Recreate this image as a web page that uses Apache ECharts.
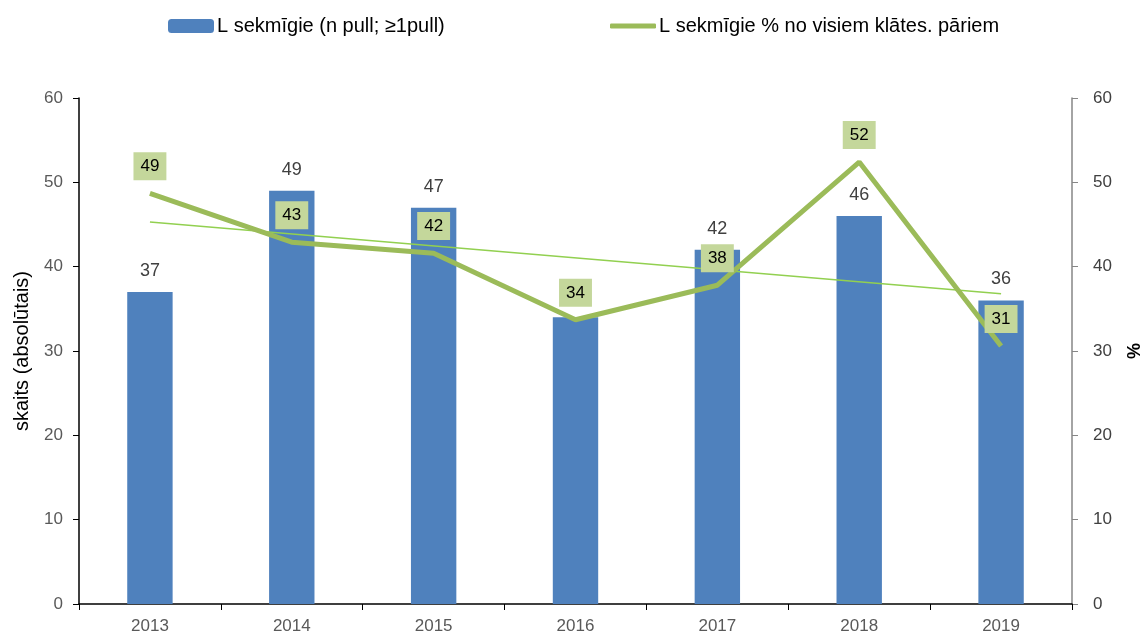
<!DOCTYPE html>
<html><head><meta charset="utf-8">
<script src="https://cdn.jsdelivr.net/npm/echarts@6/dist/echarts.min.js"></script>
<style>html,body{margin:0;padding:0;background:#fff}#c{width:1148px;height:641px}</style>
</head><body><div id="c"></div>
<script>
const categories = ['2013','2014','2015','2016','2017','2018','2019'];
const barValues = [37, 49, 47, 34, 42, 46, 36];
const pctValues = [48.7, 42.9, 41.6, 33.7, 37.8, 52.4, 30.6];
const trendValues = [45.3, null, null, null, null, null, 36.8];
const barName = 'L sekmīgie (n pull; ≥1pull)';
const lineName = 'L sekmīgie % no visiem klātes. pāriem';
const leftAxisName = 'skaits (absolūtais)';
const rightAxisName = '%';

const FONT = 'Liberation Sans';
const chart = echarts.init(document.getElementById('c'));
chart.setOption({
  animation: false,
  textStyle: {fontFamily: FONT},
  legend: [
    {data: [barName], left: 163, top: 11, itemWidth: 46, itemHeight: 14, itemGap: 4,
     textStyle: {fontSize: 20, color: '#000', fontFamily: FONT, padding: [0, 0, 0, -2]}},
    {data: [{name: lineName, icon: 'roundRect'}], left: 605, top: 11, itemWidth: 46, itemHeight: 5,
     textStyle: {fontSize: 20, color: '#000', fontFamily: FONT, padding: [0, 0, 0, -2]}}
  ],
  grid: {left: 79, right: 76, top: 98, bottom: 37, outerBoundsMode: 'none', containLabel: false},
  xAxis: {
    type: 'category', data: categories,
    axisLine: {lineStyle: {color: '#000', width: 1.5}},
    axisTick: {show: true, length: 6, lineStyle: {color: '#000'}},
    axisLabel: {fontSize: 17, color: '#595959', margin: 14}
  },
  yAxis: [
    {type: 'value', min: 0, max: 60, interval: 10, position: 'left',
     name: leftAxisName, nameLocation: 'middle', nameGap: 47, nameRotate: 90,
     nameTextStyle: {fontSize: 20, color: '#000'},
     axisLine: {show: true, lineStyle: {color: '#000', width: 1.5}},
     axisTick: {show: true, length: 6, lineStyle: {color: '#000'}},
     axisLabel: {fontSize: 17, color: '#595959', margin: 16},
     splitLine: {show: false}},
    {type: 'value', min: 0, max: 60, interval: 10, position: 'right',
     name: rightAxisName, nameLocation: 'middle', nameGap: 54, nameRotate: 90,
     nameTextStyle: {fontSize: 18, color: '#000', fontWeight: 'bold'},
     axisLine: {show: true, lineStyle: {color: '#868686', width: 1.5}},
     axisTick: {show: true, length: 6, lineStyle: {color: '#868686'}},
     axisLabel: {fontSize: 17, color: '#404040', margin: 21},
     splitLine: {show: false}}
  ],
  series: [
    {name: barName, type: 'bar', data: barValues, yAxisIndex: 0, barWidth: '32%',
     itemStyle: {color: '#4F81BD'},
     label: {show: true, position: 'top', distance: 12, fontSize: 18, color: '#404040'}},
    {name: 'trend', type: 'line', data: trendValues, yAxisIndex: 1, connectNulls: true,
     symbol: 'none', lineStyle: {color: '#92D050', width: 1.5}, z: 3, silent: true},
    {name: lineName, type: 'line', data: pctValues, yAxisIndex: 1,
     symbol: 'circle', symbolSize: 0.1, showSymbol: true,
     lineStyle: {color: '#9BBB59', width: 5}, itemStyle: {color: '#9BBB59'}, z: 4,
     label: {show: true, position: 'top', distance: 13, fontSize: 17, color: '#000',
       backgroundColor: '#C4D79B', padding: [6, 7, 5, 7],
       formatter: p => Math.round(p.value)}}
  ]
});
</script></body></html>
